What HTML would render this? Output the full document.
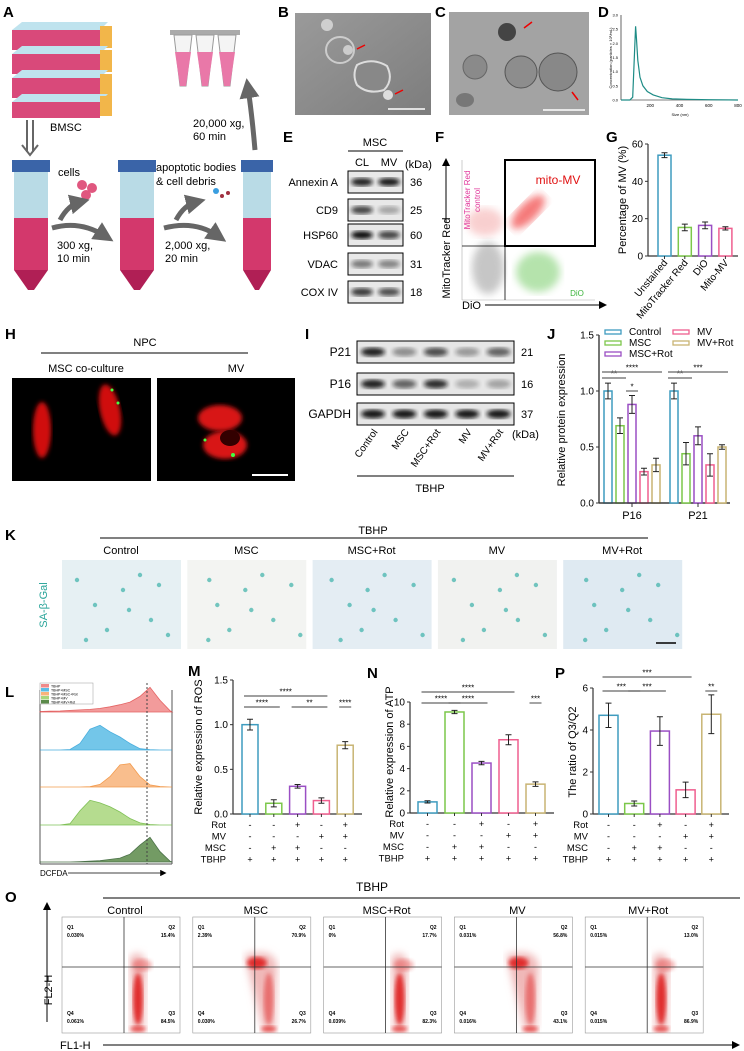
<!DOCTYPE html>
<html><head><meta charset="utf-8"><style>
body{margin:0;background:#fff;}
svg{display:block;font-family:"Liberation Sans",sans-serif;}
.pl{font-weight:bold;font-size:15px;}
.t{font-size:11px;}
.s{font-size:8px;}
</style></head><body>
<svg id="fig" width="744" height="1051" viewBox="0 0 744 1051" xmlns="http://www.w3.org/2000/svg">
<defs>
<filter id="bl2"><feGaussianBlur stdDeviation="2"/></filter>
<filter id="bl4"><feGaussianBlur stdDeviation="4"/></filter>
<filter id="bl6"><feGaussianBlur stdDeviation="6"/></filter>
<marker id="ah" markerWidth="8" markerHeight="8" refX="6" refY="4" orient="auto"><path d="M0,0 L8,4 L0,8 z" fill="#000"/></marker>
<marker id="ahg" markerWidth="4" markerHeight="4" refX="2" refY="2" orient="auto"><path d="M0,0 L4,2 L0,4 z" fill="#666"/></marker>
<linearGradient id="bg1" x1="0" y1="0" x2="1" y2="1"><stop offset="0" stop-color="#9a9a9a"/><stop offset="1" stop-color="#7d7d7d"/></linearGradient>
</defs>

<!-- Panel A -->
<g>
<text class="pl" x="3" y="17">A</text>
<g>
<g><polygon points="12,30 22,22 108,22 100,30" fill="#bfe3ee"/><rect x="12" y="30" width="88" height="20" fill="#d9497a"/><rect x="100" y="26" width="12" height="22" fill="#f2b64a"/></g>
<g><polygon points="12,54 22,46 108,46 100,54" fill="#bfe3ee"/><rect x="12" y="54" width="88" height="20" fill="#d9497a"/><rect x="100" y="50" width="12" height="22" fill="#f2b64a"/></g>
<g><polygon points="12,78 22,70 108,70 100,78" fill="#bfe3ee"/><rect x="12" y="78" width="88" height="20" fill="#d9497a"/><rect x="100" y="74" width="12" height="22" fill="#f2b64a"/></g>
<g><polygon points="12,102 22,94 108,94 100,102" fill="#bfe3ee"/><rect x="12" y="102" width="88" height="16" fill="#d9497a"/><rect x="100" y="96" width="12" height="20" fill="#f2b64a"/></g>
</g>
<text class="t" x="50" y="131">BMSC</text>
<path d="M27,120 V152 M33,120 V152 M22,145 L30,155 L38,145" fill="none" stroke="#666" stroke-width="2"/>
<g><rect x="12" y="160" width="38" height="12" fill="#3a64a8"/><rect x="14" y="172" width="34" height="46" fill="#b9dbe6"/><rect x="14" y="218" width="34" height="52" fill="#d3386c"/><polygon points="14,270 48,270 34,290 28,290" fill="#b01f55"/></g>
<g><rect x="118" y="160" width="38" height="12" fill="#3a64a8"/><rect x="120" y="172" width="34" height="46" fill="#b9dbe6"/><rect x="120" y="218" width="34" height="52" fill="#d3386c"/><polygon points="120,270 154,270 140,290 134,290" fill="#b01f55"/></g>
<g><rect x="241" y="160" width="32" height="12" fill="#3a64a8"/><rect x="243" y="172" width="28" height="46" fill="#b9dbe6"/><rect x="243" y="218" width="28" height="52" fill="#d3386c"/><polygon points="243,270 271,270 259,290 255,290" fill="#b01f55"/></g>
<g>
<rect x="170" y="30" width="70" height="5" fill="#aaa"/>
<polygon points="174,35 192,35 186,86 180,86" fill="#f4f4f4" stroke="#999"/><polygon points="175,52 191,52 186,86 180,86" fill="#e978a8"/>
<polygon points="196,35 214,35 208,86 202,86" fill="#f4f4f4" stroke="#999"/><polygon points="197,52 213,52 208,86 202,86" fill="#e978a8"/>
<polygon points="218,35 236,35 230,86 224,86" fill="#f4f4f4" stroke="#999"/><polygon points="219,52 235,52 230,86 224,86" fill="#e978a8"/>
</g>
<circle cx="82" cy="185" r="5" fill="#e0577f"/><circle cx="92" cy="188" r="5" fill="#e0577f"/><circle cx="86" cy="195" r="5" fill="#e0577f"/>
<circle cx="216" cy="191" r="3" fill="#3a9ee0"/><circle cx="222" cy="196" r="2" fill="#a03040"/><circle cx="228" cy="193" r="2" fill="#a03040"/>
<path d="M60,220 Q68,205 80,202" fill="none" stroke="#666" stroke-width="5" marker-end="url(#ahg)"/>
<path d="M52,228 Q80,220 105,236" fill="none" stroke="#666" stroke-width="5" marker-end="url(#ahg)"/>
<path d="M176,220 Q184,205 196,202" fill="none" stroke="#666" stroke-width="5" marker-end="url(#ahg)"/>
<path d="M164,228 Q195,220 218,236" fill="none" stroke="#666" stroke-width="5" marker-end="url(#ahg)"/>
<path d="M255,150 Q252,115 248,88" fill="none" stroke="#666" stroke-width="5" marker-end="url(#ahg)"/>
<text class="t" x="58" y="176">cells</text>
<text class="t" x="57" y="249">300 xg,</text><text class="t" x="57" y="262">10 min</text>
<text class="t" x="156" y="171">apoptotic bodies</text><text class="t" x="156" y="185">&amp; cell debris</text>
<text class="t" x="165" y="249">2,000 xg,</text><text class="t" x="165" y="262">20 min</text>
<text class="t" x="193" y="127">20,000 xg,</text><text class="t" x="193" y="140">60 min</text>
</g>

<!-- B -->
<g>
<text class="pl" x="278" y="17">B</text>
<rect x="295" y="13" width="136" height="102" fill="url(#bg1)"/>
<circle cx="327" cy="25" r="6" fill="#ddd" opacity=".8"/>
<ellipse cx="340" cy="50" rx="14" ry="13" fill="none" stroke="#ccc" stroke-width="2"/>
<circle cx="348" cy="50" r="5" fill="#ccc"/>
<path d="M357,65 Q372,57 387,66 Q394,80 384,90 Q368,95 357,85 Q352,75 357,65 Z" fill="#888" stroke="#ddd" stroke-width="2"/>
<circle cx="388" cy="95" r="5" fill="#ddd"/>
<path d="M365,45 L357,49 M403,90 L395,94" stroke="#e00" stroke-width="1.5"/>
<line x1="388" y1="109" x2="425" y2="109" stroke="#fff" stroke-width="1.5"/>
</g>
<!-- C -->
<g>
<text class="pl" x="435" y="17">C</text>
<rect x="449" y="12" width="140" height="103" fill="#a3a3a3"/>
<circle cx="507" cy="32" r="9" fill="#444"/>
<circle cx="475" cy="67" r="12" fill="#8a8a8a" stroke="#666"/>
<circle cx="521" cy="72" r="16" fill="#8d8d8d" stroke="#555"/>
<circle cx="558" cy="72" r="19" fill="#888" stroke="#555"/>
<ellipse cx="465" cy="100" rx="9" ry="7" fill="#777"/>
<path d="M532,22 L524,28 M578,100 L572,92" stroke="#e00" stroke-width="1.5"/>
<line x1="543" y1="110" x2="585" y2="110" stroke="#fff" stroke-width="1.5"/>
</g>
<!-- D -->
<g id="chartD">
<text class="pl" x="598" y="17">D</text>
<text x="612" y="58" font-size="4" transform="rotate(-90 612 58)" text-anchor="middle">Concentration (particles × 10⁶/mL)</text>
<text x="680" y="116" font-size="4" text-anchor="middle">Size (nm)</text>
</g>

<!-- E -->
<g>
<text class="pl" x="283" y="142">E</text>
<text class="t" x="375" y="146" text-anchor="middle">MSC</text>
<line x1="348" y1="151" x2="403" y2="151" stroke="#000"/>
<text class="t" x="362" y="166" text-anchor="middle">CL</text><text class="t" x="389" y="166" text-anchor="middle">MV</text>
<text class="t" x="405" y="168">(kDa)</text>
<g id="blotE"></g>
</g>

<!-- F -->
<g>
<text class="pl" x="435" y="142">F</text>
<line x1="446" y1="222" x2="446" y2="160" stroke="#000" marker-end="url(#ah)"/>
<text class="t" x="450" y="258" transform="rotate(-90 450 258)" text-anchor="middle">MitoTracker Red</text>
<line x1="462" y1="160" x2="462" y2="300" stroke="#aaa" stroke-width=".6"/>
<line x1="462" y1="300" x2="595" y2="300" stroke="#aaa" stroke-width=".6"/>
<ellipse cx="488" cy="268" rx="16" ry="26" fill="#999" opacity=".55" filter="url(#bl4)"/>
<ellipse cx="485" cy="222" rx="18" ry="14" fill="#f08a8a" opacity=".4" filter="url(#bl4)"/>
<ellipse cx="528" cy="212" rx="22" ry="9" transform="rotate(-45 528 212)" fill="#e22" opacity=".6" filter="url(#bl4)"/>
<ellipse cx="538" cy="272" rx="22" ry="20" fill="#5bc24a" opacity=".45" filter="url(#bl4)"/>
<line x1="462" y1="246" x2="505" y2="246" stroke="#000" stroke-width=".8"/>
<line x1="505" y1="246" x2="505" y2="300" stroke="#000" stroke-width=".8"/>
<rect x="505" y="160" width="90" height="86" fill="none" stroke="#000" stroke-width="2"/>
<text x="558" y="184" font-size="12" fill="#e01010" text-anchor="middle">mito-MV</text>
<text x="470" y="200" font-size="8" fill="#e0359a" transform="rotate(-90 470 200)" text-anchor="middle">MitoTracker Red</text>
<text x="480" y="200" font-size="8" fill="#e0359a" transform="rotate(-90 480 200)" text-anchor="middle">control</text>
<text x="577" y="296" font-size="8" fill="#3cb43c" text-anchor="middle">DiO</text>
<text class="t" x="462" y="309">DiO</text>
<line x1="485" y1="305" x2="605" y2="305" stroke="#000" marker-end="url(#ah)"/>
</g>

<!-- G -->
<g id="chartG">
<text class="pl" x="606" y="142">G</text>
<text class="t" x="626" y="200" transform="rotate(-90 626 200)" text-anchor="middle">Percentage of MV (%)</text>
</g>

<!-- H -->
<g>
<text class="pl" x="5" y="339">H</text>
<text class="t" x="145" y="346" text-anchor="middle">NPC</text>
<line x1="41" y1="353" x2="248" y2="353" stroke="#000"/>
<text class="t" x="86" y="372" text-anchor="middle">MSC co-culture</text>
<text class="t" x="236" y="372" text-anchor="middle">MV</text>
<rect x="12" y="378" width="139" height="103" fill="#000"/>
<rect x="157" y="378" width="138" height="103" fill="#000"/>
<ellipse cx="42" cy="430" rx="9" ry="28" fill="#d01010" filter="url(#bl2)"/>
<ellipse cx="110" cy="410" rx="10" ry="26" transform="rotate(-12 110 410)" fill="#d01010" filter="url(#bl2)"/>
<ellipse cx="220" cy="418" rx="22" ry="13" fill="#d81515" filter="url(#bl2)"/>
<ellipse cx="225" cy="445" rx="22" ry="14" fill="#d81515" filter="url(#bl2)"/>
<ellipse cx="230" cy="438" rx="10" ry="8" fill="#300"/>
<circle cx="112" cy="390" r="1.5" fill="#4f4"/><circle cx="118" cy="403" r="1.5" fill="#4f4"/>
<circle cx="205" cy="440" r="1.5" fill="#4f4"/><circle cx="233" cy="455" r="2" fill="#4f4"/>
<line x1="252" y1="475" x2="288" y2="475" stroke="#fff" stroke-width="2"/>
</g>

<!-- I -->
<g>
<text class="pl" x="305" y="339">I</text>
<g id="blotI"></g>
<line x1="357" y1="476" x2="514" y2="476" stroke="#000"/>
<text class="t" x="430" y="492" text-anchor="middle">TBHP</text>
<text class="t" x="512" y="438">(kDa)</text>
</g>

<!-- J -->
<g id="chartJ">
<text class="pl" x="547" y="339">J</text>
<text class="t" x="565" y="420" transform="rotate(-90 565 420)" text-anchor="middle">Relative protein expression</text>
</g>

<!-- K -->
<g>
<text class="pl" x="5" y="540">K</text>
<text class="t" x="373" y="534" text-anchor="middle">TBHP</text>
<line x1="100" y1="538" x2="648" y2="538" stroke="#000"/>
<g id="kImgs"></g>
<text x="47" y="605" font-size="11" fill="#2aa59a" transform="rotate(-90 47 605)" text-anchor="middle">SA-β-Gal</text>
</g>

<!-- L -->
<g id="chartL">
<text class="pl" x="5" y="697">L</text>
</g>

<!-- M N P -->
<g id="chartM"><text class="pl" x="188" y="676">M</text>
<text class="t" x="202" y="747" transform="rotate(-90 202 747)" text-anchor="middle">Relative expression of ROS</text></g>
<g id="chartN"><text class="pl" x="367" y="678">N</text>
<text class="t" x="393" y="752" transform="rotate(-90 393 752)" text-anchor="middle">Relative expression of ATP</text></g>
<g id="chartP"><text class="pl" x="555" y="678">P</text>
<text class="t" x="576" y="752" transform="rotate(-90 576 752)" text-anchor="middle">The ratio of Q3/Q2</text></g>

<!-- O -->
<g id="panelO">
<text class="pl" x="5" y="902">O</text>
<text x="372" y="891" font-size="12" text-anchor="middle">TBHP</text>
<line x1="103" y1="898" x2="740" y2="898" stroke="#000"/>
<line x1="47" y1="1022" x2="47" y2="904" stroke="#000" marker-end="url(#ah)"/>
<text x="52" y="990" font-size="11" transform="rotate(-90 52 990)" text-anchor="middle">FL2-H</text>
<text x="60" y="1049" font-size="11">FL1-H</text>
<line x1="103" y1="1045" x2="738" y2="1045" stroke="#000" marker-end="url(#ah)"/>
</g>
</svg>
<script>
var NS='http://www.w3.org/2000/svg';
function mk(p,tag,at,txt){var e=document.createElementNS(NS,tag);for(var k in at)e.setAttribute(k,at[k]);if(txt!==undefined)e.textContent=txt;p.appendChild(e);return e;}
var colors=['#3f9cbf','#7cc74a','#9a4fc4','#ef5f8f','#c8b473'];

// ---- data ----
var dSizes=[0,60,80,95,100,105,115,130,150,180,220,280,350,450,600,800];
var dConc=[0,0,0.1,2.0,2.6,2.2,1.4,0.8,0.5,0.3,0.18,0.08,0.04,0.02,0.01,0];
var dYTicks=[0,0.5,1,1.5,2,2.5,3];
var dXTicks=[200,400,600,800];

var gCats=['Unstained','MitoTracker Red','DiO','Mito-MV'];
var gVals=[54,15.3,16.4,14.8];
var gErr=[1.3,1.8,1.8,0.9];
var gTicks=[0,20,40,60];

var jGroups=['P16','P21'];
var jSeries=['Control','MSC','MSC+Rot','MV','MV+Rot'];
var jP16=[1.0,0.69,0.88,0.28,0.34];
var jP16Err=[0.07,0.07,0.08,0.03,0.06];
var jP21=[1.0,0.44,0.60,0.34,0.50];
var jP21Err=[0.07,0.10,0.08,0.10,0.02];
var jTicks=[0,0.5,1.0,1.5];

var mVals=[1.0,0.12,0.31,0.15,0.77];
var mErr=[0.06,0.04,0.02,0.03,0.04];
var mTicks=[0,0.5,1.0,1.5];
var nVals=[1.0,9.1,4.5,6.6,2.6];
var nErr=[0.1,0.15,0.15,0.45,0.2];
var nTicks=[0,2,4,6,8,10];
var pVals=[4.7,0.5,3.95,1.15,4.75];
var pErr=[0.58,0.12,0.68,0.37,0.92];
var pTicks=[0,2,4,6];
var treatRows=['Rot','MV','MSC','TBHP'];
var treatSigns=[['-','-','+','-','+'],['-','-','-','+','+'],['-','+','+','-','-'],['+','+','+','+','+']];

var lSeries=['TBHP','TBHP+MSC','TBHP+MSC+Rot','TBHP+MV','TBHP+MV+Rot'];
var lHist=[
[0.02,0.03,0.04,0.06,0.08,0.1,0.14,0.2,0.28,0.38,0.6,0.95,0.45,0.05],
[0,0,0,0.02,0.25,0.8,0.95,0.7,0.5,0.25,0.05,0.01,0,0],
[0,0,0,0,0,0.01,0.1,0.4,0.85,0.9,0.4,0.08,0.02,0],
[0,0,0,0.05,0.55,0.95,0.85,0.7,0.5,0.25,0.08,0.02,0,0],
[0,0,0,0,0.01,0.03,0.05,0.1,0.15,0.3,0.65,0.95,0.4,0.03]];
var lFill=['#f08a8a','#5bbde6','#f9b37a','#a9d67c','#5b8a4a'];
var lStroke=['#e04a4a','#2aa0d8','#f08a30','#6ab63a','#2d5a2a'];

var oCats=['Control','MSC','MSC+Rot','MV','MV+Rot'];
var oQ1=['0.030%','2.39%','0%','0.031%','0.015%'];
var oQ2=['15.4%','70.9%','17.7%','56.8%','13.0%'];
var oQ4=['0.061%','0.030%','0.039%','0.016%','0.015%'];
var oQ3=['84.5%','26.7%','82.3%','43.1%','86.9%'];

var eRows=['Annexin A','CD9','HSP60','VDAC','COX IV'];
var eKda=['36','25','60','31','18'];
var eCL=[0.9,0.75,1.0,0.5,0.8];
var eMV=[0.95,0.3,0.75,0.45,0.7];
var iRows=['P21','P16','GAPDH'];
var iKda=['21','16','37'];
var iInt=[[0.9,0.4,0.7,0.35,0.6],[0.9,0.6,0.85,0.25,0.3],[0.95,0.95,0.95,0.95,0.95]];
var kCats=['Control','MSC','MSC+Rot','MV','MV+Rot'];

function lin(d0,d1,r0,r1){return function(v){return r0+(v-d0)/(d1-d0)*(r1-r0);};}

// ---- D ----
(function(){var g=document.getElementById('chartD');
var x=lin(0,800,621,738),y=lin(0,3,100,15);
mk(g,'line',{x1:621,y1:15,x2:621,y2:100,stroke:'#000','stroke-width':0.6});
mk(g,'line',{x1:621,y1:100,x2:738,y2:100,stroke:'#000','stroke-width':0.6});
dYTicks.forEach(function(t){var tl=mk(g,'text',{x:618,y:y(t)+1.5,'font-size':4,'text-anchor':'end'},t.toFixed(1));});
dXTicks.forEach(function(t){var tl=mk(g,'text',{x:x(t),y:107,'font-size':4.5,'text-anchor':'middle'},t);});
var d=dSizes.map(function(s,i){return (i?'L':'M')+x(s).toFixed(1)+','+y(dConc[i]).toFixed(1);}).join(' ');
var p=mk(g,'path',{d:d,fill:'none',stroke:'#1e8c86','stroke-width':1.2});


})();

// ---- blots ----
(function(){var g=document.getElementById('blotE');
var yc=[182,210,235,264,292];
eRows.forEach(function(r,i){
 mk(g,'rect',{x:348,y:yc[i]-11,width:55,height:22,fill:'#e8e8e8',stroke:'#000'});
 var b1=mk(g,'ellipse',{cx:362,cy:yc[i],rx:11,ry:4,fill:'#111',opacity:eCL[i],filter:'url(#bl2)'});
 
 
 var b2=mk(g,'ellipse',{cx:389,cy:yc[i],rx:11,ry:4,fill:'#111',opacity:eMV[i],filter:'url(#bl2)'});
 
 
 mk(g,'text',{x:338,y:yc[i]+4,'font-size':11,'text-anchor':'end'},r);
 mk(g,'text',{x:410,y:yc[i]+4,'font-size':11},eKda[i]);
});
var gi=document.getElementById('blotI');var yi=[352,384,414];
iRows.forEach(function(r,i){
 mk(gi,'rect',{x:357,y:yi[i]-11,width:157,height:22,fill:'#e6e6e6',stroke:'#000'});
 for(var l=0;l<5;l++){var b=mk(gi,'ellipse',{cx:373+l*31.4,cy:yi[i],rx:12,ry:4.5,fill:'#111',opacity:iInt[i][l],filter:'url(#bl2)'});
  
  }
 mk(gi,'text',{x:351,y:yi[i]+4,'font-size':12,'text-anchor':'end'},r);
 mk(gi,'text',{x:521,y:yi[i]+4,'font-size':11},iKda[i]);
});
kCats.forEach(function(c,l){var xx=378+l*31.4;mk(gi,'text',{x:xx,y:432,'font-size':10,'text-anchor':'end',transform:'rotate(-55 '+xx+' 432)'},c);});
})();

// ---- K images ----
(function(){var g=document.getElementById('kImgs');var fills=['#e6f0f3','#f3f4f2','#e4edf3','#f1f2f0','#dfeaf2'];
kCats.forEach(function(c,i){var x0=62+i*125.3;
 mk(g,'text',{x:x0+59,y:554,'font-size':11,'text-anchor':'middle'},c);
 var r=mk(g,'rect',{x:x0,y:560,width:119,height:89,fill:fills[i]});
 
 
 var pts=[[15,20],[30,45],[55,30],[80,60],[95,25],[40,70],[70,15],[105,75],[20,80],[60,50]];
 pts.forEach(function(p,j){mk(g,'circle',{cx:x0+p[0]+(i*7+j*3)%10,cy:560+p[1],r:2.2,fill:'#3bb0a8',opacity:0.7});});
});
mk(g,'line',{x1:656,y1:643,x2:676,y2:643,stroke:'#000','stroke-width':1.5});
})();

// ---- L ----
(function(){var g=document.getElementById('chartL');
mk(g,'line',{x1:40,y1:690,x2:40,y2:864,stroke:'#555'});mk(g,'line',{x1:172,y1:690,x2:172,y2:864,stroke:'#555'});
mk(g,'line',{x1:40,y1:864,x2:172,y2:864,stroke:'#555'});
var base=[712,750,787,825,862];var x=function(i){return 40+i*10;};
lHist.forEach(function(h,s){
 var d='M40,'+base[s]+' '+h.map(function(v,i){return 'L'+x(i)+','+(base[s]-v*26).toFixed(1);}).join(' ')+' L172,'+base[s]+' Z';
 var p=mk(g,'path',{d:d,fill:lFill[s],stroke:lStroke[s],'stroke-width':0.8,opacity:0.85});
 
 
});
mk(g,'line',{x1:147,y1:683,x2:147,y2:864,stroke:'#444','stroke-dasharray':'2,2'});
mk(g,'rect',{x:40,y:683,width:53,height:21,fill:'#fff',stroke:'#999','stroke-width':0.5});
lSeries.forEach(function(s,i){mk(g,'rect',{x:41,y:684+i*4,width:8,height:3.5,fill:lFill[i]});
 var t=mk(g,'text',{x:51,y:687.5+i*4,'font-size':3.5},s);});
mk(g,'text',{x:40,y:876,'font-size':8},'DCFDA');
mk(g,'line',{x1:68,y1:873,x2:165,y2:873,stroke:'#000','stroke-width':0.8,'marker-end':'url(#ah)'});
})();

// ---- generic bar chart ----
function bars(id,o){var g=document.getElementById(id);var y=lin(0,o.max,o.y0,o.y1);
 mk(g,'line',{x1:o.ax,y1:o.y1,x2:o.ax,y2:o.y0,stroke:'#333','stroke-width':1.2});
 mk(g,'line',{x1:o.ax,y1:o.y0,x2:o.axEnd,y2:o.y0,stroke:'#333','stroke-width':1.2});
 o.ticks.forEach(function(t){mk(g,'line',{x1:o.ax-3,y1:y(t),x2:o.ax,y2:y(t),stroke:'#333'});
  var tl=mk(g,'text',{x:o.ax-5,y:y(t)+3.5,'font-size':10,'text-anchor':'end'},o.fmt?t.toFixed(1):t);
  
  });
 o.vals.forEach(function(v,i){var cx=o.x0+i*o.step+(o.gOff||0);
  var r=mk(g,'rect',{x:cx,y:y(v),width:o.w,height:o.y0-y(v),fill:'#fff',stroke:o.cols[i],'stroke-width':1.5});
  
  
  var m=cx+o.w/2,e=o.err[i];
  mk(g,'path',{d:'M'+m+','+y(v+e)+'V'+y(Math.max(0,v-e))+'M'+(m-3)+','+y(v+e)+'h6M'+(m-3)+','+y(Math.max(0,v-e))+'h6',stroke:'#222','stroke-width':1,fill:'none'});
  if(o.tickX)mk(g,'line',{x1:m,y1:o.y0,x2:m,y2:o.y0+3,stroke:'#333'});
 });
 return {g:g,y:y};}

function treatments(c,o){treatRows.forEach(function(r,k){var yy=o.y0+11+k*11.5;
 mk(c.g,'text',{x:o.lx,y:yy+3,'font-size':9.5,'text-anchor':'end'},r);
 treatSigns[k].forEach(function(s,i){mk(c.g,'text',{x:o.x0+i*o.step+o.w/2,y:yy+3,'font-size':9,'text-anchor':'middle'},s);});});}
function sig(c,o,list){list.forEach(function(s){var xa=o.x0+s[0]*o.step+o.w/2-6,xb=o.x0+s[1]*o.step+o.w/2+6;
 mk(c.g,'line',{x1:xa,y1:s[3],x2:xb,y2:s[3],stroke:'#666','stroke-width':1.2});
 mk(c.g,'text',{x:(xa+xb)/2,y:s[3]-1.5,'font-size':8,'text-anchor':'middle'},s[2]);});}

// G
(function(){var o={ax:648,axEnd:738,y0:256,y1:144,max:60,ticks:gTicks,vals:gVals,err:gErr,x0:658,step:20.3,w:13,cols:[colors[0],colors[1],colors[2],colors[3]],tickX:true};
var c=bars('chartG',o);
gCats.forEach(function(t,i){var xx=o.x0+i*o.step+10;var tl=mk(c.g,'text',{x:xx,y:263,'font-size':10,'text-anchor':'end',transform:'rotate(-50 '+xx+' 263)'},t);
 
 });})();

// J
(function(){var base={ax:599,axEnd:730,y0:503,y1:335,max:1.5,ticks:jTicks,x0:604,step:12,w:8,cols:colors,fmt:true};
var o1=Object.assign({},base,{vals:jP16,err:jP16Err});var c=bars('chartJ',o1);
var o2=Object.assign({},base,{vals:jP21,err:jP21Err,gOff:66,ticks:[]});bars('chartJ',o2);
jGroups.forEach(function(t,i){mk(c.g,'line',{x1:632+i*66,y1:503,x2:632+i*66,y2:507,stroke:'#333'});mk(c.g,'text',{x:632+i*66,y:519,'font-size':11,'text-anchor':'middle'},t);});
var lp=[[605,334],[605,345],[605,356],[673,334],[673,345]];
jSeries.forEach(function(s,i){mk(c.g,'rect',{x:lp[i][0],y:lp[i][1]-4,width:16,height:4,fill:'#fff',stroke:colors[i],'stroke-width':1.3});
 var t=mk(c.g,'text',{x:lp[i][0]+24,y:lp[i][1]+1,'font-size':10},s);});
sig(c,o1,[[0,1,'**',378],[2,2,'*',391],[0,4,'****',372]]);
sig(c,Object.assign({},o1,{x0:670}),[[0,1,'**',378],[0,4,'***',372]]);
})();

// M
(function(){var o={ax:233,axEnd:362,y0:814,y1:680,max:1.5,ticks:mTicks,vals:mVals,err:mErr,x0:242,step:23.8,w:16,cols:colors,fmt:true,tickX:true};
var c=bars('chartM',o);treatments(c,Object.assign({lx:226},o));
sig(c,o,[[0,1,'****',707],[2,3,'**',707],[4,4,'****',707],[0,3,'****',696]]);})();
// N
(function(){var o={ax:410,axEnd:554,y0:813,y1:702,max:10,ticks:nTicks,vals:nVals,err:nErr,x0:418,step:27,w:19,cols:colors,tickX:true};
var c=bars('chartN',o);treatments(c,Object.assign({lx:404},o));
sig(c,o,[[0,1,'****',703],[1,2,'****',703],[4,4,'***',703],[0,3,'****',692]]);})();
// P
(function(){var o={ax:593,axEnd:729,y0:814,y1:688,max:6,ticks:pTicks,vals:pVals,err:pErr,x0:599,step:25.7,w:19,cols:colors,tickX:true};
var c=bars('chartP',o);treatments(c,Object.assign({lx:588},o));
sig(c,o,[[0,1,'***',691],[1,2,'***',691],[4,4,'**',691],[0,3,'***',677]]);})();

// O
(function(){var g=document.getElementById('panelO');
oCats.forEach(function(c,i){var x0=62+i*130.8,y0=917;
 mk(g,'text',{x:x0+63,y:914,'font-size':11,'text-anchor':'middle'},c);
 var r=mk(g,'rect',{x:x0,y:y0,width:118,height:116,fill:'#fff',stroke:'#999','stroke-width':0.6});
 
 
 var hi=(i==1||i==3);
 var top=hi?[x0+58,y0+38]:[x0+74,y0+40];
 mk(g,'path',{d:'M'+(top[0]-6)+','+top[1]+' Q'+(x0+80)+','+(y0+30)+' '+(x0+84)+','+(y0+48)+' L'+(x0+82)+','+(y0+112)+' L'+(x0+70)+','+(y0+112)+' Z',fill:'#f0b8b8',filter:'url(#bl4)'});
 mk(g,'ellipse',{cx:x0+76,cy:y0+82,rx:5,ry:26,fill:'#e02828',opacity:hi?0.5:0.95,filter:'url(#bl2)'});
 mk(g,'ellipse',{cx:top[0]+6,cy:top[1]+8,rx:10,ry:6,fill:'#e02828',opacity:hi?0.95:0.35,filter:'url(#bl2)'});
 mk(g,'ellipse',{cx:x0+76,cy:y0+112,rx:8,ry:3,fill:'#e02828',opacity:0.8,filter:'url(#bl2)'});
 mk(g,'line',{x1:x0+62,y1:y0,x2:x0+62,y2:y0+116,stroke:'#333','stroke-width':0.8});
 mk(g,'line',{x1:x0,y1:y0+50,x2:x0+118,y2:y0+50,stroke:'#333','stroke-width':0.8});
 var fs={'font-size':5,'font-weight':'bold'};
 function tx(x,y,t,a){var e=mk(g,'text',Object.assign({x:x,y:y,'text-anchor':a||'start'},fs),t);return e;}
 tx(x0+5,y0+12,'Q1');tx(x0+5,y0+20,oQ1[i]);tx(x0+113,y0+12,'Q2','end');tx(x0+113,y0+20,oQ2[i],'end');
 tx(x0+5,y0+98,'Q4');tx(x0+5,y0+106,oQ4[i]);tx(x0+113,y0+98,'Q3','end');tx(x0+113,y0+106,oQ3[i],'end');
});})();
</script>
</body></html>
